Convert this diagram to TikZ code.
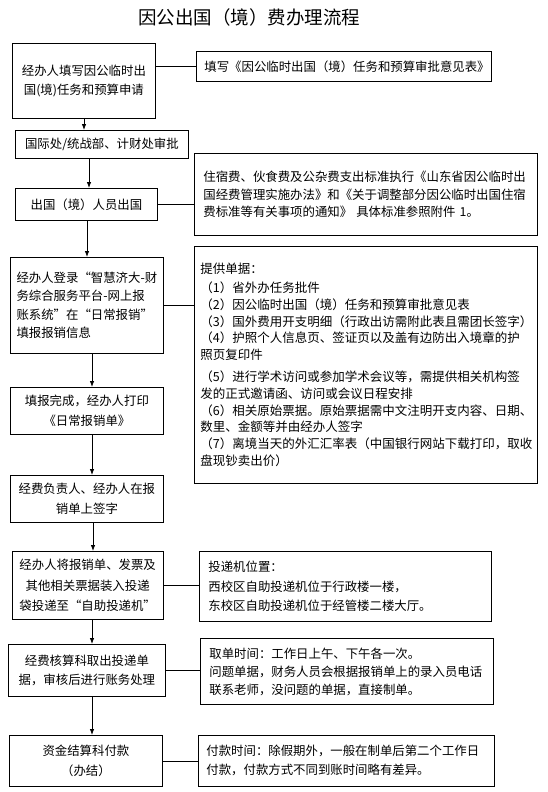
\documentclass[tikz,border=0pt]{standalone}
\usepackage{fontspec}
\setmainfont{Noto Sans CJK SC}[Kerning=Off]
\usetikzlibrary{arrows.meta}
\tikzset{
  boxbase/.style={draw, line width=0.8pt, anchor=north west, inner ysep=0pt},
  lbox/.style={boxbase, inner xsep=4pt, align=center, font=\fontsize{12.4}{19.5}\selectfont},
  rbox/.style={boxbase, inner xsep=8pt, align=left, font=\fontsize{12.4}{19}\selectfont},
  link/.style={line width=0.8pt},
  arr/.style={line width=0.8pt, -{Latex[length=6pt,width=4.5pt]}},
}
\begin{document}
\begin{tikzpicture}[x=1pt,y=-1pt]
\useasboundingbox (0,0) rectangle (548,792);
\node (title) at (249,17.5) {\fontsize{18.5}{20}\selectfont 因公出国（境）费办理流程};

% left column
\node[lbox, minimum width=143pt, minimum height=75pt] (b1) at (12,43)
  {经办人填写因公临时出\\国(境)任务和预算申请};
\node[lbox, minimum width=173pt, minimum height=28pt] (b2) at (15,130)
  {国际处/统战部、计财处审批};
\node[lbox, minimum width=142pt, minimum height=32pt] (b3) at (15,188)
  {出国（境）人员出国};
\node[lbox, align=left, font=\fontsize{12.4}{18.5}\selectfont, minimum width=153pt, minimum height=96pt] (b4) at (10,257)
  {经办人登录“智慧济大-财\\务综合服务平台-网上报\\账系统”在“日常报销”\\填报报销信息};
\node[lbox, minimum width=153pt, minimum height=47pt] (b5) at (10,387)
  {填报完成，经办人打印\\《日常报销单》};
\node[lbox, minimum width=153pt, minimum height=47pt] (b6) at (10,475)
  {经费负责人、经办人在报\\销单上签字};
\node[lbox, font=\fontsize{12.4}{20.5}\selectfont, minimum width=151.5pt, minimum height=68pt] (b7) at (11.5,551)
  {经办人将报销单、发票及\\其他相关票据装入投递\\袋投递至“自助投递机”};
\node[lbox, minimum width=157pt, minimum height=52pt] (b8) at (8,644)
  {经费核算科取出投递单\\据，审核后进行账务处理};
\node[lbox, minimum width=153pt, minimum height=51pt] (b9) at (9,735)
  {资金结算科付款\\（办结）};

% right column
\node[rbox, text width=279pt, minimum width=295pt, minimum height=30pt] (r1) at (196,51)
  {填写《因公临时出国（境）任务和预算审批意见表》};
\node[rbox, inner xsep=9pt, font=\fontsize{12.4}{17.5}\selectfont, text width=325pt, minimum width=343pt, minimum height=82pt] (r2) at (194,153)
  {住宿费、伙食费及公杂费支出标准执行《山东省因公临时出\\国经费管理实施办法》和《关于调整部分因公临时出国住宿\\费标准等有关事项的通知》 具体标准参照附件 1。};
\node[rbox, inner xsep=6pt, font=\fontsize{12.5}{16.8}\selectfont, text width=331pt, minimum width=343pt, minimum height=237pt] (r3) at (194,246)
  {提供单据：\\[2pt]
   （1）省外办任务批件\\
   （2）因公临时出国（境）任务和预算审批意见表\\
   （3）国外费用开支明细（行政出访需附此表且需团长签字）\\
   （4）护照个人信息页、签证页以及盖有边防出入境章的护\\
   照页复印件\\[5pt]
   （5）进行学术访问或参加学术会议等，需提供相关机构签\\
   发的正式邀请函、访问或会议日程安排\\
   （6）相关原始票据。原始票据需中文注明开支内容、日期、\\
   数里、金额等并由经办人签字\\
   （7）离境当天的外汇汇率表（中国银行网站下载打印，取收\\
   盘现钞卖出价）};
\node[rbox, inner xsep=9pt, font=\fontsize{12.4}{19.5}\selectfont, text width=274pt, minimum width=292pt, minimum height=70pt] (r4) at (199,551)
  {投递机位置：\\西校区自助投递机位于行政楼一楼，\\东校区自助投递机位于经管楼二楼大厅。};
\node[rbox, inner xsep=9pt, font=\fontsize{12.4}{18}\selectfont, text width=275pt, minimum width=293pt, minimum height=66pt] (r5) at (200,638)
  {取单时间：工作日上午、下午各一次。\\问题单据，财务人员会根据报销单上的录入员电话\\联系老师，没问题的单据，直接制单。};
\node[rbox, text width=280pt, minimum width=296pt, minimum height=51pt] (r6) at (198,735)
  {付款时间：除假期外，一般在制单后第二个工作日\\付款，付款方式不同到账时间略有差异。};

% arrow columns
\coordinate (a1) at (84,0);
\coordinate (a2) at (89,0);
\coordinate (a3) at (87,0);
\coordinate (a4) at (92,0);
\coordinate (a5) at (92,0);
\coordinate (a6) at (93,0);
\coordinate (a7) at (92,0);
\coordinate (a8) at (92,0);

\draw[arr] (b1.south -| a1) -- (b2.north -| a1);
\draw[arr] (b2.south -| a2) -- (b3.north -| a2);
\draw[arr] (b3.south -| a3) -- (b4.north -| a3);
\draw[arr] (b4.south -| a4) -- (b5.north -| a4);
\draw[arr] (b5.south -| a5) -- (b6.north -| a5);
\draw[arr] (b6.south -| a6) -- (b7.north -| a6);
\draw[arr] (b7.south -| a7) -- (b8.north -| a7);
\draw[arr] (b8.south -| a8) -- (b9.north -| a8);

% side links
\draw[link] (r1.west) -- (r1.west -| b1.east);
\draw[link] (b3.east) -- (b3.east -| r2.west);
\draw[link] (b4.east) -- (b4.east -| r3.west);
\draw[link] (b7.east) -- (b7.east -| r4.west);
\draw[link] (b8.east) -- (b8.east -| r5.west);
\draw[link] (b9.east) -- (b9.east -| r6.west);
\end{tikzpicture}
\end{document}
